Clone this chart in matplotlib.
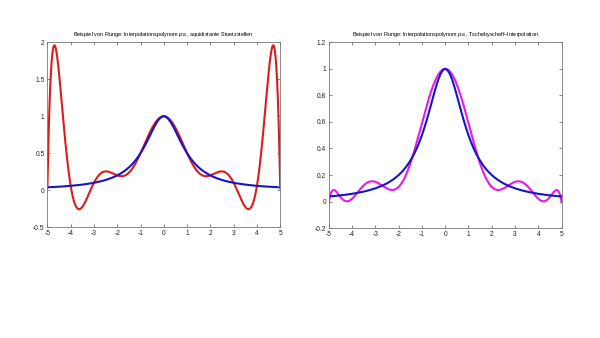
import numpy as np
import matplotlib
matplotlib.use("Agg")
import matplotlib.pyplot as plt
from numpy.polynomial import Polynomial

plt.rcParams['font.family'] = ['Liberation Sans', 'DejaVu Sans']
plt.rcParams['mathtext.fontset'] = 'custom'
plt.rcParams['mathtext.it'] = 'Liberation Sans:italic'
plt.rcParams['mathtext.rm'] = 'Liberation Sans'

# Runge function 1/(1+x^2), tabulated on [-5, 5] in steps of 0.1
half = [1.0, 0.9901, 0.9615, 0.9174, 0.8621, 0.8, 0.7353, 0.6711, 0.6098, 0.5525,
        0.5, 0.4525, 0.4098, 0.3717, 0.3378, 0.3077, 0.2809, 0.2571, 0.2358, 0.2169,
        0.2, 0.1848, 0.1712, 0.1590, 0.1479, 0.1379, 0.1289, 0.1206, 0.1131, 0.1063,
        0.1, 0.0943, 0.0890, 0.0841, 0.0796, 0.0755, 0.0716, 0.0681, 0.0648, 0.0617,
        0.0588, 0.0561, 0.0536, 0.0513, 0.0491, 0.0471, 0.0451, 0.0433, 0.0416, 0.0400,
        0.0385]
runge_x = np.round(np.arange(-50, 51) / 10.0, 1)
runge_y = np.array(half[::-1] + half[1:])

# equidistant nodes
eq_x = [-5, -4, -3, -2, -1, 0, 1, 2, 3, 4, 5]
eq_y = [0.0385, 0.0588, 0.1, 0.2, 0.5, 1.0, 0.5, 0.2, 0.1, 0.0588, 0.0385]

# Chebyshev nodes
ch_x = [-4.9491, -4.5482, -3.7787, -2.7032, -1.4087, 0.0,
        1.4087, 2.7032, 3.7787, 4.5482, 4.9491]
ch_y = [0.03923, 0.04611, 0.06545, 0.12037, 0.33508, 1.0,
        0.33508, 0.12037, 0.06545, 0.04611, 0.03923]

title_l = r"Beispiel von Runge: Interpolationspolynom $p_{10}$, aquidistante Stuetzstellen"
title_r = r"Beispiel von Runge: Interpolationspolynom $p_{10}$, Tschebyscheff–Interpolation"

xx = np.linspace(-5, 5, 600)
p_eq = Polynomial.fit(eq_x, eq_y, 10)
p_ch = Polynomial.fit(ch_x, ch_y, 10)

fig = plt.figure(figsize=(6, 3.38), dpi=100)
ax1 = fig.add_axes([0.079, 0.328, 0.388, 0.547])
ax2 = fig.add_axes([0.548, 0.325, 0.388, 0.55])

blue = "#1515c8"
red = "#dc1c1c"
mag = "#e818e8"

ax1.plot(xx, p_eq(xx), color=red, lw=1.5)
ax1.plot(runge_x, runge_y, color=blue, lw=1.5)
ax1.plot([eq_x[-1]], [eq_y[-1]], 'o', ms=2.5, mfc='none', mec="#7070d0", mew=0.6)
ax1.set_xlim(-5, 5)
ax1.set_ylim(-0.5, 2)
ax1.set_xticks(range(-5, 6))
ax1.set_yticks([-0.5, 0, 0.5, 1, 1.5, 2])
ax1.set_yticklabels(["-0.5", "0", "0.5", "1", "1.5", "2"])
ax1.set_title(title_l, fontsize=3.95, pad=4.5)

ax2.plot(xx, p_ch(xx), color=mag, lw=1.5)
ax2.plot(runge_x, runge_y, color=blue, lw=1.5)
ax2.set_xlim(-5, 5)
ax2.set_ylim(-0.2, 1.2)
ax2.set_xticks(range(-5, 6))
ax2.set_yticks([-0.2, 0, 0.2, 0.4, 0.6, 0.8, 1, 1.2])
ax2.set_yticklabels(["-0.2", "0", "0.2", "0.4", "0.6", "0.8", "1", "1.2"])
ax2.set_title(title_r, fontsize=3.95, pad=4.5)

for ax in (ax1, ax2):
    ax.set_xticklabels([str(v) for v in range(-5, 6)])
    ax.tick_params(direction='in', length=2.5, width=0.5, labelsize=4.8,
                   top=True, right=True, pad=2, colors="#555555", labelcolor="#222222")
    for s in ax.spines.values():
        s.set_linewidth(0.6)
        s.set_color("#777777")

fig.savefig("out.png", dpi=100)
